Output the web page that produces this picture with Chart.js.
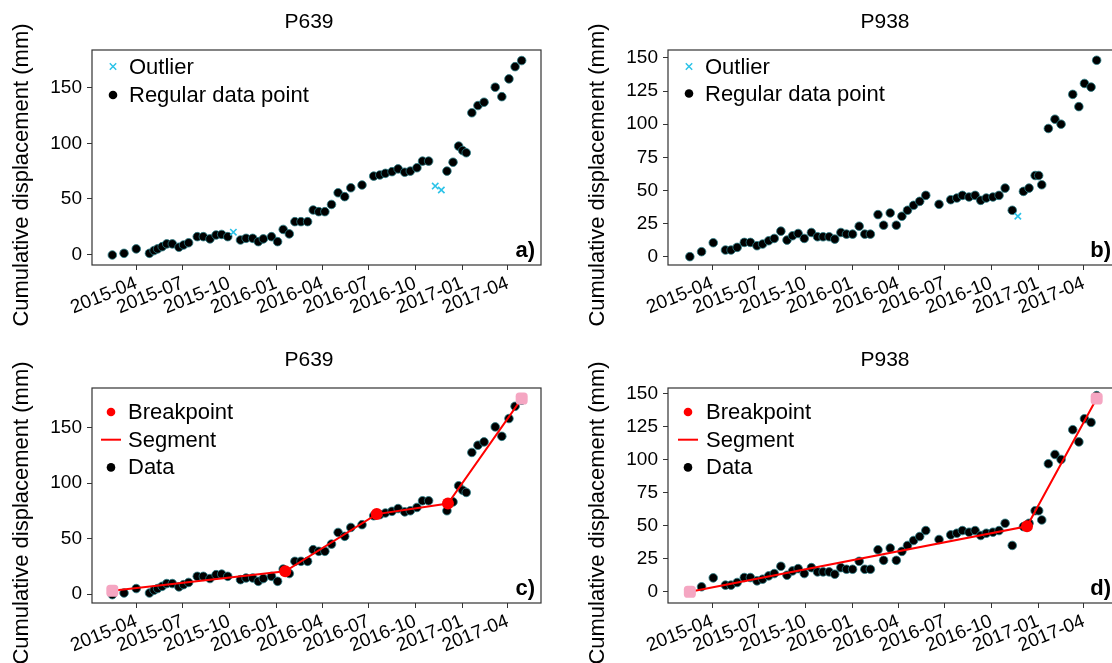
<!DOCTYPE html>
<html>
<head>
<meta charset="utf-8">
<script src="https://cdn.jsdelivr.net/npm/chart.js@4.4.0/dist/chart.umd.min.js"></script>
<style>
  html, body { margin: 0; padding: 0; background: #fff; overflow: hidden; width: 1112px; height: 663px; }
  canvas { position: absolute; }
</style>
</head>
<body>
<canvas id="chartA" width="620" height="330" style="left:0;top:0"></canvas>
<canvas id="chartB" width="620" height="330" style="left:576px;top:0"></canvas>
<canvas id="chartC" width="620" height="330" style="left:0;top:338px"></canvas>
<canvas id="chartD" width="620" height="330" style="left:576px;top:338px"></canvas>
<script>
// x axis: quarterly ticks
const tickLabels = ['2015-04', '2015-07', '2015-10', '2016-01', '2016-04', '2016-07', '2016-10', '2017-01', '2017-04'];
const xStart = '2015-01-04';
const xEnd = '2017-06-05';

// P639 regular observations (mm)
const p639Dates = ['2015-02-13', '2015-03-08', '2015-04-01', '2015-04-27', '2015-05-06', '2015-05-13', '2015-05-22', '2015-05-31',
  '2015-06-11', '2015-06-24', '2015-07-03', '2015-07-13', '2015-07-30', '2015-08-11', '2015-08-24', '2015-09-05',
  '2015-09-16', '2015-09-28', '2015-10-23', '2015-11-03', '2015-11-16', '2015-11-27', '2015-12-07', '2015-12-23',
  '2016-01-04', '2016-01-15', '2016-01-27', '2016-02-07', '2016-02-19', '2016-03-03', '2016-03-14', '2016-03-25',
  '2016-04-06', '2016-04-19', '2016-05-02', '2016-05-15', '2016-05-27', '2016-06-18', '2016-07-11', '2016-07-23',
  '2016-08-03', '2016-08-16', '2016-08-28', '2016-09-10', '2016-09-21', '2016-10-04', '2016-10-15', '2016-10-27',
  '2016-12-02', '2016-12-14', '2016-12-25', '2017-01-02', '2017-01-09', '2017-01-20', '2017-02-01', '2017-02-13',
  '2017-03-07', '2017-03-20', '2017-04-03', '2017-04-15', '2017-04-28'];
const p639Disp = [-0.5, 1, 5, 1, 3.5, 5, 7, 9.5,
  9.5, 6.5, 8.5, 10.5, 16, 16, 14, 17.5,
  18, 16, 13, 14.5, 14.5, 11.5, 14, 16,
  11.5, 22.5, 18.5, 29.5, 29.5, 29.5, 40, 38.5,
  38.5, 45, 55.5, 52, 60, 62.5, 70.5, 71.5,
  73, 74.5, 77, 74, 75, 78, 84, 84,
  75, 83, 97.5, 93.5, 91.5, 127.5, 134, 137,
  150.5, 142, 158, 169, 174.5];
const p639OutDates = ['2015-10-09', '2016-11-09', '2016-11-21'];
const p639OutDisp = [20, 61.5, 58];
// fitted piecewise trend: first and last knots are the series ends
const p639KnotDates = ['2015-02-13', '2016-01-19', '2016-07-17', '2016-12-04', '2017-04-28'];
const p639KnotDisp = [3, 20.5, 72, 81.5, 176];

// P938 regular observations (mm)
const p938Dates = ['2015-02-16', '2015-03-11', '2015-04-03', '2015-04-27', '2015-05-08', '2015-05-20', '2015-06-03', '2015-06-15',
  '2015-06-28', '2015-07-09', '2015-07-21', '2015-08-01', '2015-08-14', '2015-08-26', '2015-09-06', '2015-09-17',
  '2015-09-29', '2015-10-13', '2015-10-25', '2015-11-05', '2015-11-17', '2015-11-28', '2015-12-10', '2015-12-21',
  '2016-01-02', '2016-01-15', '2016-01-26', '2016-02-06', '2016-02-21', '2016-03-03', '2016-03-16', '2016-03-28',
  '2016-04-08', '2016-04-19', '2016-05-01', '2016-05-13', '2016-05-25', '2016-06-20', '2016-07-13', '2016-07-25',
  '2016-08-05', '2016-08-18', '2016-08-30', '2016-09-10', '2016-09-21', '2016-10-04', '2016-10-16', '2016-10-28',
  '2016-11-11', '2016-12-03', '2016-12-14', '2016-12-26', '2017-01-02', '2017-01-08', '2017-01-21', '2017-02-03',
  '2017-02-15', '2017-03-10', '2017-03-22', '2017-04-02', '2017-04-15', '2017-04-26'];
const p938Disp = [0, 3.75, 10.5, 5, 5, 7, 10.75, 10.75,
  8.25, 9.5, 12, 13.75, 19.25, 12.5, 15.75, 17.5,
  13.75, 18.25, 15, 15, 15, 13.25, 18.25, 17,
  17, 23, 17, 17, 31.75, 23.75, 33, 23.75,
  30.5, 35, 38.75, 41.75, 46.25, 39.5, 43, 44.25,
  46.25, 45, 46.25, 42.5, 44.25, 45, 46.25, 51.75,
  35, 49.25, 51.75, 61.25, 61.25, 54.25, 96.75, 103.75,
  100, 122.5, 113.25, 130.75, 128, 148.25];
const p938OutDates = ['2016-11-22'];
const p938OutDisp = [30.5];
const p938KnotDates = ['2015-02-16', '2016-12-10', '2017-04-26'];
const p938KnotDisp = [0, 49.5, 146];

const yTicks639 = [0, 50, 100, 150];
const yTicks938 = [0, 25, 50, 75, 100, 125, 150];

const FONT = '"Liberation Sans", Arial, sans-serif';
Chart.defaults.font.family = FONT;
Chart.defaults.color = '#000';

function day(s) {
  return Date.parse(s + 'T00:00:00Z') / 86400000;
}

function pts(dates, vals) {
  return dates.map((d, i) => ({ x: day(d), y: vals[i] }));
}

function dataSet(label, dates, vals) {
  return {
    label: label,
    data: pts(dates, vals),
    pointRadius: 4.3,
    pointBackgroundColor: '#000',
    pointBorderColor: '#2b7f88',
    pointBorderWidth: 0.8,
    order: 3
  };
}

function outlierSet(dates, vals) {
  return {
    label: 'Outlier',
    data: pts(dates, vals),
    pointStyle: 'crossRot',
    pointRadius: 4.5,
    pointBorderColor: '#2cc3e8',
    pointBackgroundColor: '#2cc3e8',
    pointBorderWidth: 1.6,
    order: 1
  };
}

function knotSets(dates, vals) {
  const knots = pts(dates, vals);
  return [
    {
      label: 'Breakpoint',
      data: knots.slice(1, -1),
      pointRadius: 6,
      pointBackgroundColor: '#ff0000',
      pointBorderColor: '#ff0000',
      pointBorderWidth: 0,
      order: 1
    },
    {
      label: 'Segment',
      data: knots,
      showLine: true,
      pointRadius: 0,
      borderColor: '#ff0000',
      borderWidth: 2,
      fill: false,
      order: 2
    },
    null, // data points go here
    {
      label: '',
      data: [knots[0], knots[knots.length - 1]],
      pointStyle: 'rectRounded',
      pointRadius: 7,
      pointBackgroundColor: '#f5a6c2',
      pointBorderColor: '#f5a6c2',
      pointBorderWidth: 0,
      order: 0
    }
  ];
}

// title, frame, panel letter, y title and the inset legend
const panelDecor = {
  id: 'panelDecor',
  afterDraw(chart, args, opts) {
    const { ctx, chartArea: a } = chart;
    ctx.save();
    ctx.strokeStyle = '#333';
    ctx.lineWidth = 1.2;
    ctx.strokeRect(a.left, a.top, a.right - a.left, a.bottom - a.top);

    ctx.fillStyle = '#000';
    ctx.font = '21px ' + FONT;
    ctx.textAlign = 'center';
    ctx.textBaseline = 'middle';
    ctx.fillText(opts.title, 309, 22);

    ctx.font = 'bold 22px ' + FONT;
    ctx.textAlign = 'right';
    ctx.textBaseline = 'alphabetic';
    ctx.fillText(opts.letter, a.right - 6, a.bottom - 8);

    // legend
    ctx.font = '22px ' + FONT;
    ctx.textAlign = 'left';
    ctx.textBaseline = 'middle';
    const items = chart.data.datasets.filter(ds => ds.label);
    items.forEach((ds, i) => {
      const y = a.top + opts.legendTop + i * opts.legendStep;
      const mx = a.left + opts.markX;
      if (ds.showLine) {
        ctx.strokeStyle = ds.borderColor;
        ctx.lineWidth = ds.borderWidth;
        ctx.beginPath();
        ctx.moveTo(mx - 10, y);
        ctx.lineTo(mx + 10, y);
        ctx.stroke();
      } else if (ds.pointStyle === 'crossRot') {
        const r = 3.2;
        ctx.strokeStyle = ds.pointBorderColor;
        ctx.lineWidth = 1.5;
        ctx.beginPath();
        ctx.moveTo(mx - r, y - r); ctx.lineTo(mx + r, y + r);
        ctx.moveTo(mx - r, y + r); ctx.lineTo(mx + r, y - r);
        ctx.stroke();
      } else {
        ctx.fillStyle = ds.pointBackgroundColor;
        ctx.beginPath();
        ctx.arc(mx, y, 4.3, 0, Math.PI * 2);
        ctx.fill();
      }
      ctx.fillStyle = '#000';
      ctx.fillText(ds.label, a.left + opts.textX, y + 1);
    });

    ctx.font = '22px ' + FONT;
    ctx.textAlign = 'center';
    ctx.textBaseline = 'middle';
    ctx.translate(22, 175);
    ctx.rotate(-Math.PI / 2);
    ctx.fillText('Cumulative displacement (mm)', 0, 0);
    ctx.restore();
  }
};

function makePanel(id, title, letter, datasets, yMin, yMax, yTicks, legendTop, legendStep, markX, textX) {
  const xTickDays = tickLabels.map(t => day(t + '-01'));
  return new Chart(document.getElementById(id), {
    type: 'scatter',
    data: { datasets: datasets },
    plugins: [panelDecor],
    options: {
      responsive: false,
      animation: false,
      events: [],
      layout: { padding: { left: 32, right: 79, top: 50, bottom: 5 } },
      plugins: {
        legend: { display: false },
        tooltip: { enabled: false },
        title: { display: false },
        panelDecor: { title: title, letter: letter, legendTop: legendTop, legendStep: legendStep, markX: markX, textX: textX }
      },
      scales: {
        x: {
          type: 'linear',
          min: day(xStart),
          max: day(xEnd),
          afterBuildTicks: scale => { scale.ticks = xTickDays.map(v => ({ value: v })); },
          afterFit: scale => { scale.height = 60; },
          grid: { display: true, drawOnChartArea: false, drawTicks: true, tickLength: 5, color: '#333' },
          border: { display: false },
          ticks: {
            autoSkip: false,
            minRotation: 22,
            maxRotation: 22,
            padding: 2,
            color: '#000',
            font: { size: 19 },
            callback: (v, i) => tickLabels[i]
          }
        },
        y: {
          min: yMin,
          max: yMax,
          afterBuildTicks: scale => { scale.ticks = yTicks.map(v => ({ value: v })); },
          afterFit: scale => { scale.width = 60; },
          grid: { display: true, drawOnChartArea: false, drawTicks: true, tickLength: 5, color: '#333' },
          border: { display: false },
          ticks: {
            padding: 5,
            color: '#000',
            font: { size: 19 },
            callback: v => String(v)
          }
        }
      }
    }
  });
}

// a) P639 with flagged outliers
makePanel('chartA', 'P639', 'a)', [
  outlierSet(p639OutDates, p639OutDisp),
  dataSet('Regular data point', p639Dates, p639Disp)
], -9.5, 184, yTicks639, 16.5, 28.5, 21, 37);

// b) P938 with flagged outliers
makePanel('chartB', 'P938', 'b)', [
  outlierSet(p938OutDates, p938OutDisp),
  dataSet('Regular data point', p938Dates, p938Disp)
], -6.3, 156, yTicks938, 16.5, 27, 21, 37);

// c) P639 segmented fit
const setsC = knotSets(p639KnotDates, p639KnotDisp);
setsC[2] = dataSet('Data', p639Dates, p639Disp);
makePanel('chartC', 'P639', 'c)', setsC, -8, 185.5, yTicks639, 24, 27.7, 19, 36);

// d) P938 segmented fit
const setsD = knotSets(p938KnotDates, p938KnotDisp);
setsD[2] = dataSet('Data', p938Dates, p938Disp);
makePanel('chartD', 'P938', 'd)', setsD, -8.5, 154, yTicks938, 24, 27.7, 20, 38);
</script>
</body>
</html>
